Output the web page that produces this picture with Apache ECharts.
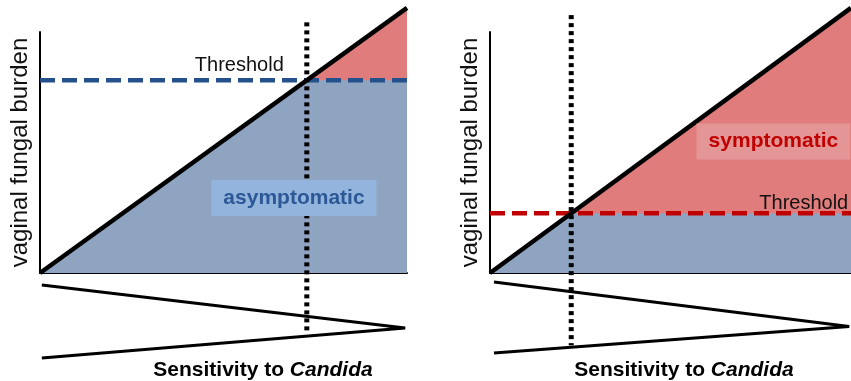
<!DOCTYPE html>
<html>
<head>
<meta charset="utf-8">
<script src="https://cdn.jsdelivr.net/npm/echarts@6/dist/echarts.min.js"></script>
<style>
  html, body { margin: 0; padding: 0; background: #fff; }
  #chart { width: 851px; height: 381px; }
</style>
</head>
<body>
<div id="chart"></div>
<script>
// 两个面板: 左 = 高阈值(无症状), 右 = 低阈值(有症状)
var diagonal = [[0, 0], [100, 110]];
var thresholdLeft = 80;
var crossLeft = 72.7;
var thresholdRight = 24.75;
var crossRight = 22.5;

var dottedLeft = [[crossLeft, 104], [crossLeft, -24.5]];
var dottedRight = [[crossRight, 107], [crossRight, -30]];

var wedgeLeft = [[0.5, -5], [99.5, -22.8], [0.5, -35.3]];
var wedgeRight = [[1.1, -3.7], [99.5, -22.2], [1.1, -33.2]];

var yName = 'vaginal fungal burden';
var labelLeft = [[42.2, 85.9, 'Threshold']];
var boxLeft = [[69.2, 31.1, 'asymptomatic']];
var labelRight = [[74.6, 29.0, 'Threshold']];
var boxRight = [[78.5, 54.6, 'symptomatic']];

var BLUE_FILL = '#8ea4c1';
var RED_FILL = '#e07c7c';

function axisPair(idx) {
  var x = {
    type: 'value', gridIndex: idx, min: 0, max: 100,
    axisLine: { show: true, onZero: false, lineStyle: { color: '#000', width: 2 } },
    axisTick: { show: false }, axisLabel: { show: false }, splitLine: { show: false }
  };
  var y = {
    type: 'value', gridIndex: idx, min: 0, max: 100,
    name: yName, nameLocation: 'middle', nameRotate: 90, nameGap: 8,
    nameTextStyle: { fontSize: 24, color: '#111', fontFamily: 'Liberation Sans' },
    axisLine: { show: true, onZero: false, lineStyle: { color: '#000', width: 2 } },
    axisTick: { show: false }, axisLabel: { show: false }, splitLine: { show: false }
  };
  return [x, y];
}

function panelSeries(idx, thr, cross, dotted, wedge, label, box, dashColor, boxColor, boxText) {
  var s = [];
  // 红色区域 (对角线下方, 交点之后)
  s.push({
    type: 'line', xAxisIndex: idx, yAxisIndex: idx, clip: false, symbol: 'none',
    data: [[cross, thr], diagonal[1]],
    lineStyle: { width: 0 }, areaStyle: { color: RED_FILL, opacity: 1 }
  });
  // 蓝色区域 (min(对角线, 阈值))
  s.push({
    type: 'line', xAxisIndex: idx, yAxisIndex: idx, clip: false, symbol: 'none',
    data: [diagonal[0], [cross, thr], [100, thr]],
    lineStyle: { width: 0 }, areaStyle: { color: BLUE_FILL, opacity: 1 }
  });
  // 阈值虚线
  s.push({
    type: 'line', xAxisIndex: idx, yAxisIndex: idx, clip: false, symbol: 'none',
    data: [[0, thr], [100, thr]],
    lineStyle: { color: dashColor, width: 4.5, type: [15, 7] }
  });
  // 对角线
  s.push({
    type: 'line', xAxisIndex: idx, yAxisIndex: idx, clip: false, symbol: 'none',
    data: diagonal,
    lineStyle: { color: '#000', width: 4.5 }
  });
  // 竖直点线
  s.push({
    type: 'line', xAxisIndex: idx, yAxisIndex: idx, clip: false, symbol: 'none', z: 3,
    data: dotted,
    lineStyle: { color: '#000', width: 5, type: [4, 4], cap: 'butt' }
  });
  // 楔形
  s.push({
    type: 'line', xAxisIndex: idx, yAxisIndex: idx, clip: false, symbol: 'none',
    data: wedge,
    lineStyle: { color: '#000', width: 3, join: 'miter' }
  });
  // Threshold 文字
  s.push({
    type: 'scatter', xAxisIndex: idx, yAxisIndex: idx, clip: false, symbolSize: 0, z: 6,
    itemStyle: { opacity: 1 },
    data: label,
    label: {
      show: true, position: 'right', distance: 0,
      formatter: function (p) { return p.value[2]; },
      fontSize: 20, color: '#111', fontFamily: 'Liberation Sans'
    }
  });
  // 方框标签 (单独图层, 盖住点线)
  s.push({
    type: 'scatter', xAxisIndex: idx, yAxisIndex: idx, clip: false, symbolSize: 0, zlevel: 1,
    itemStyle: { opacity: 1 },
    data: box,
    label: {
      show: true, position: 'inside',
      formatter: function (p) { return p.value[2]; },
      fontSize: 21, fontWeight: 'bold', color: boxText, fontFamily: 'Liberation Sans',
      backgroundColor: boxColor, padding: [7, 12], lineHeight: 22
    }
  });
  return s;
}

var chart = echarts.init(document.getElementById('chart'));
var left = axisPair(0), right = axisPair(1);

var titleRich = {
  b: { fontSize: 21, fontWeight: 'bold', color: '#000', fontFamily: 'Liberation Sans' },
  i: { fontSize: 21, fontWeight: 'bold', fontStyle: 'italic', color: '#000', fontFamily: 'Liberation Sans' }
};

chart.setOption({
  animation: false,
  backgroundColor: '#fff',
  title: [
    { text: '{b|Sensitivity to }{i|Candida}', left: 258, top: 355, textAlign: 'center', textStyle: { rich: titleRich } },
    { text: '{b|Sensitivity to }{i|Candida}', left: 679, top: 355, textAlign: 'center', textStyle: { rich: titleRich } }
  ],
  grid: [
    { left: 40, top: 32, width: 367, height: 241 },
    { left: 490, top: 32, width: 367, height: 241 }
  ],
  xAxis: [left[0], right[0]],
  yAxis: [left[1], right[1]],
  series: panelSeries(0, thresholdLeft, crossLeft, dottedLeft, wedgeLeft, labelLeft, boxLeft,
                      '#24508c', '#93b4dc', '#2c5996')
    .concat(panelSeries(1, thresholdRight, crossRight, dottedRight, wedgeRight, labelRight, boxRight,
                      '#c00000', '#e49595', '#c00000'))
});
</script>
</body>
</html>
